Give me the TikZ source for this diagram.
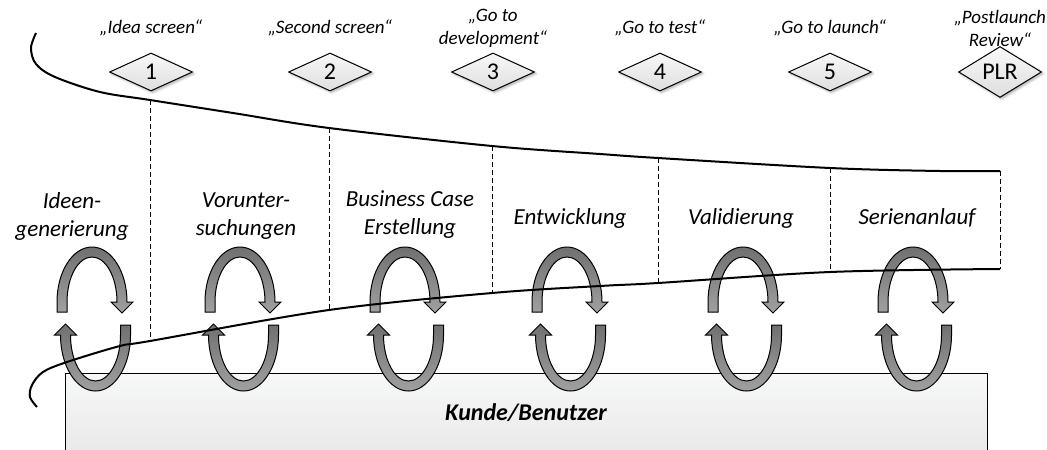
\documentclass[tikz,border=0pt]{standalone}
\usepackage{fontspec}
\setmainfont{Carlito}
\usetikzlibrary{shapes.geometric, shadows.blur, positioning}
\definecolor{GateTop}{RGB}{248,248,248}
\definecolor{GateBottom}{RGB}{222,222,222}
\definecolor{LoopDark}{RGB}{112,112,112}
\definecolor{LoopLight}{RGB}{160,160,160}
\definecolor{BoxTop}{RGB}{247,248,248}
\definecolor{BoxBottom}{RGB}{233,233,233}

\tikzset{
  gate/.style={diamond, draw=black, line width=0.5pt, minimum width=41.5pt, minimum height=19pt,
    inner sep=0pt, top color=GateTop, bottom color=GateBottom,
    blur shadow={shadow xshift=0.8pt, shadow yshift=-0.8pt, shadow blur radius=1.2pt, shadow opacity=35},
    font=\fontsize{12}{14}\selectfont},
  gatelabel/.style={align=center, inner sep=0pt, font=\fontsize{9.5}{11.5}\selectfont\itshape},
  phase/.style={align=center, inner sep=0pt, font=\fontsize{11.5}{14}\selectfont\itshape},
  loop/.style={draw=black, line width=0.5pt, top color=LoopDark, bottom color=LoopLight},
  kundebox/.style={draw=black, line width=0.5pt, top color=BoxTop, bottom color=BoxBottom,
    minimum width=461pt, minimum height=39.5pt, inner sep=0pt,
    font=\fontsize{12}{14}\selectfont\bfseries\itshape},
  border/.style={line width=1pt},
  divider/.style={line width=0.5pt, dash pattern=on 2.5pt off 1.5pt},
}

\begin{document}
\begin{tikzpicture}[x=0.5pt, y=-0.5pt]
\useasboundingbox (0,0) rectangle (1047,449);

% customer box
\node[kundebox] (kunde) at (526,412.5) {Kunde/Benutzer};

% gates with their names
\foreach \x/\num/\txt [count=\i] in {151/1/{„Idea screen“}, 330/2/{„Second screen“},
    493/3/{„Go to\\development“}, 660/4/{„Go to test“}, 830/5/{„Go to launch“},
    1000/PLR/{„Postlaunch\\Review“}}{
  \node[gate] (gate\i) at (\x,72) {\num};
  \node[gatelabel] (gatelabel\i) at (\x,28) {\txt};
}

% phases
\foreach \x/\py/\txt [count=\i] in {72/216/{Ideen-\\generierung}, 246/216/{Vorunter-\\suchungen},
    410/215/{Business Case\\Erstellung}, 570/218/{Entwicklung}, 741/218/{Validierung},
    917/218/{Serienanlauf}}
  \node[phase] (phase\i) at (\x,\py) {\txt};

% iteration loops
\foreach \cx in {92,240,405,567,743,913}{
  \begin{scope}[shift={(\cx,0)}]
    \path[loop] (-35,312) -- (-35,302) arc[start angle=180, end angle=360, x radius=35, y radius=55]
      -- (41,302) -- (30,313) -- (19,302) -- (25,302)
      arc[start angle=0, end angle=-180, x radius=25, y radius=45] -- (-25,312) -- cycle;
  \end{scope}
  \begin{scope}[shift={(\cx+3.5,0)}]
    \path[loop] (35,325) -- (35,335) arc[start angle=0, end angle=180, x radius=35, y radius=56]
      -- (-41,335) -- (-30,324) -- (-19,335) -- (-25,335)
      arc[start angle=180, end angle=0, x radius=25, y radius=46] -- (25,325) -- cycle;
  \end{scope}
}

% funnel
\coordinate (t1) at (150,100);  \coordinate (b1) at (150,341);
\coordinate (t2) at (329,128);  \coordinate (b2) at (329,310);
\coordinate (t3) at (492,146);  \coordinate (b3) at (492,293);
\coordinate (t4) at (658,158);  \coordinate (b4) at (658,283);
\coordinate (t5) at (830,168);  \coordinate (b5) at (830,272);
\coordinate (t6) at (1000,171); \coordinate (b6) at (1000,269);

\draw[border] plot[smooth, tension=0.55] coordinates {(36,33) (31,48) (36,64) (55,77) (100,92) (t1)
  (233,113) (t2) (t3) (600,154) (t4) (t5) (940,171) (t6)};
\draw[border] plot[smooth, tension=0.55] coordinates {(b6) (b5) (b4) (600,286) (b3) (b2) (b1)
  (120,346) (67,362) (43,372) (32,385) (30,397) (37,407)};

\foreach \i in {1,...,6}
  \draw[divider] (t\i) -- (b\i);
\end{tikzpicture}
\end{document}
